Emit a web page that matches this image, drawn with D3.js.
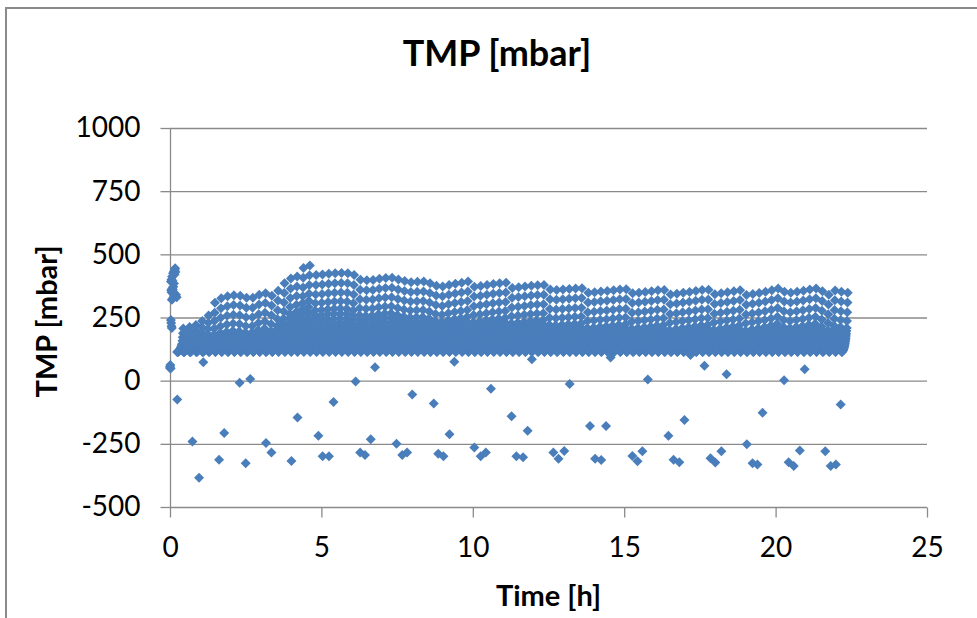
<!DOCTYPE html>
<html>
<head>
<meta charset="utf-8">
<script src="https://cdn.jsdelivr.net/npm/d3@7"></script>
<style>
  body { margin: 0; background: #fff; }
  text { font-family: Lato, "Open Sans", sans-serif; fill: #000; }
</style>
</head>
<body>
<div id="graph"></div>
<script>
// ---- data ----
let yTicks = [-500, -250, 0, 250, 500, 750, 1000];
let xTicks = [0, 5, 10, 15, 20, 25];

// filtration cycles : start of the first cycle and cycle length (h)
let cycleStart = 0.24;
let cycleStep = 0.209;
// peak TMP of each cycle (top row of the cloud)
let cyclePeak = [
  206, 212, 220, 236, 258, 308, 326, 334, 338, 336,
  328, 328, 340, 346, 336, 356, 386, 404, 412, 446,
  456, 418, 420, 423, 425, 426, 425, 418, 399, 397,
  398, 403, 406, 407, 400, 394, 390, 391, 392, 386,
  376, 373, 379, 384, 388, 392, 372, 375, 379, 383,
  386, 388, 367, 370, 373, 376, 378, 379, 361, 359,
  361, 363, 365, 366, 348, 350, 353, 355, 358, 361,
  362, 346, 348, 351, 354, 358, 359, 341, 344, 348,
  351, 355, 359, 360, 342, 346, 350, 354, 358, 339,
  343, 347, 352, 358, 365, 352, 348, 352, 356, 361,
  365, 354, 340, 357, 352, 348
];
// TMP at the start of a cycle (bottom of the cloud)
let baseTMP = 113;
// upper rows of a cycle : drop below the peak (mbar), capped by a share of (peak - base)
let topDrop = [0, 39, 77, 112, 140];
let topShareMax = [0, 0.2, 0.37, 0.52, 0.64];
// lower rows : share of the range between base and the last upper row
let lowShare = [0.88, 0.77, 0.67, 0.58, 0.50, 0.43, 0.37, 0.31, 0.26, 0.22,
                0.18, 0.15, 0.12, 0.095, 0.07, 0.05, 0.03, 0.015, 0];

// first points of the run (t < 0.3 h)
let startT = [0.00, 0.01, 0.02, 0.00, 0.03, 0.04, 0.05, 0.06,
              0.06, 0.09, 0.12, 0.14, 0.10, 0.05, 0.04, 0.07, 0.11, 0.13, 0.08, 0.05,
              0.03, 0.07, 0.10, 0.13, 0.16, 0.18, 0.15, 0.09, 0.12, 0.20, 0.22, 0.17];
let startV = [55, 62, 48, 50, 240, 228, 215, 208,
              320, 325, 330, 338, 345, 350, 358, 365, 372, 385, 395, 400,
              392, 412, 425, 432, 438, 430, 420, 360, 350, 340, 330, 445];

// scattered points outside the cloud
let outT = [0.24, 0.74, 0.96, 1.10, 1.62, 1.79, 2.30, 2.50, 2.65, 3.17,
            3.35, 4.01, 4.21, 4.90, 5.04, 5.25, 5.40, 6.13, 6.28, 6.44,
            6.63, 6.77, 7.48, 7.67, 7.83, 8.00, 8.71, 8.86, 9.03, 9.23,
            9.39, 10.05, 10.26, 10.43, 10.60, 11.28, 11.44, 11.66, 11.81, 11.95,
            12.66, 12.83, 13.02, 13.20, 13.87, 14.04, 14.24, 14.40, 14.55, 15.27,
            15.44, 15.60, 15.78, 16.46, 16.63, 16.82, 16.99, 17.19, 17.65, 17.85,
            18.01, 18.21, 18.38, 19.05, 19.24, 19.40, 19.57, 20.28, 20.43, 20.60,
            20.80, 20.96, 21.64, 21.82, 21.99, 22.15];
let outV = [-75, -241, -384, 73, -313, -207, -8, -327, 7, -247,
            -284, -318, -146, -218, -299, -299, -84, -3, -284, -294,
            -232, 53, -250, -294, -284, -55, -90, -289, -299, -212,
            75, -265, -299, -284, -32, -141, -299, -303, -198, 85,
            -284, -309, -278, -13, -179, -309, -314, -179, 92, -298,
            -319, -279, 5, -218, -313, -323, -156, 102, 59, -307,
            -324, -279, 25, -252, -327, -332, -127, 2, -323, -338,
            -276, 45, -279, -338, -332, -94];

// ---- points ----
// inside a cycle TMP rises with time : lowest row first, peak last
let points = [];
cyclePeak.forEach(function(peak, i) {
  let t0 = cycleStart + i * cycleStep;
  let span = peak - baseTMP;
  let valeurs = [];
  let last = peak;
  topDrop.forEach(function(d, k) {
    let v = peak - Math.min(d, topShareMax[k] * span);
    if (v >= baseTMP) { valeurs.push(v); last = v; }
  });
  lowShare.forEach(function(s) { valeurs.push(baseTMP + s * (last - baseTMP)); });
  valeurs.sort(d3.ascending);
  valeurs.forEach(function(v, k) {
    points.push({ t: t0 + cycleStep * 0.95 * k / (valeurs.length - 1), v: v });
  });
});
startT.forEach(function(t, i) { points.push({ t: t, v: startV[i] }); });
outT.forEach(function(t, i) { points.push({ t: t, v: outV[i] }); });

// ---- layout ----
let largeur = 977, hauteur = 618;
let gauche = 170, droite = 927, haut = 128, bas = 507;
let gris = "#8a8a8a";

let echelleX = d3.scaleLinear().domain([0, 25]).range([gauche, droite]);
let echelleY = d3.scaleLinear().domain([-500, 1000]).range([bas, haut]);

let svg = d3.select("#graph").append("svg")
    .attr("width", largeur)
    .attr("height", hauteur);

// chart border
svg.append("rect")
    .attr("x", 6).attr("y", 8)
    .attr("width", 1000).attr("height", 700)
    .attr("fill", "none")
    .attr("stroke", gris)
    .attr("stroke-width", 2);

// horizontal grid
svg.append("g").selectAll("line")
    .data(yTicks.filter(d => d > -500))
    .enter().append("line")
    .attr("x1", gauche).attr("x2", droite)
    .attr("y1", d => echelleY(d) + 0.5).attr("y2", d => echelleY(d) + 0.5)
    .attr("stroke", gris).attr("stroke-width", 1.3);

// axes
let axeX = d3.axisBottom(echelleX).tickValues(xTicks).tickSize(10).tickPadding(20)
    .tickFormat(d => String(d));
let axeY = d3.axisLeft(echelleY).tickValues(yTicks).tickSize(10).tickPadding(20)
    .tickFormat(d => String(d));

let gx = svg.append("g")
    .attr("transform", "translate(0," + (bas + 0.5) + ")")
    .call(axeX);
let gy = svg.append("g")
    .attr("transform", "translate(" + (gauche + 0.5) + ",0)")
    .call(axeY);

[gx, gy].forEach(function(g) {
  g.selectAll("path, line").attr("stroke", gris).attr("stroke-width", 1.3);
  g.selectAll("text").style("font-size", "28px").attr("fill", "#000");
  g.select(".domain").attr("d", g === gx ? "M" + gauche + ",0H" + droite : "M0," + bas + "V" + haut);
});

// markers
let losange = d3.symbol().type(d3.symbolSquare).size(50)();
svg.append("g").selectAll("path")
    .data(points)
    .enter().append("path")
    .attr("d", losange)
    .attr("transform", d => "translate(" + echelleX(d.t) + "," + echelleY(d.v) + ") rotate(45)")
    .attr("fill", "#4a7ebb");

// titles
svg.append("text")
    .attr("x", 497).attr("y", 66)
    .attr("text-anchor", "middle")
    .style("font-size", "36px").style("font-weight", "bold")
    .text("TMP [mbar]");

svg.append("text")
    .attr("transform", "translate(57," + ((haut + bas) / 2 + 4) + ") rotate(-90)")
    .attr("text-anchor", "middle")
    .style("font-size", "29px").style("font-weight", "bold")
    .text("TMP [mbar]");

svg.append("text")
    .attr("x", (gauche + droite) / 2).attr("y", 606)
    .attr("text-anchor", "middle")
    .style("font-size", "29px").style("font-weight", "bold")
    .text("Time [h]");
</script>
</body>
</html>
